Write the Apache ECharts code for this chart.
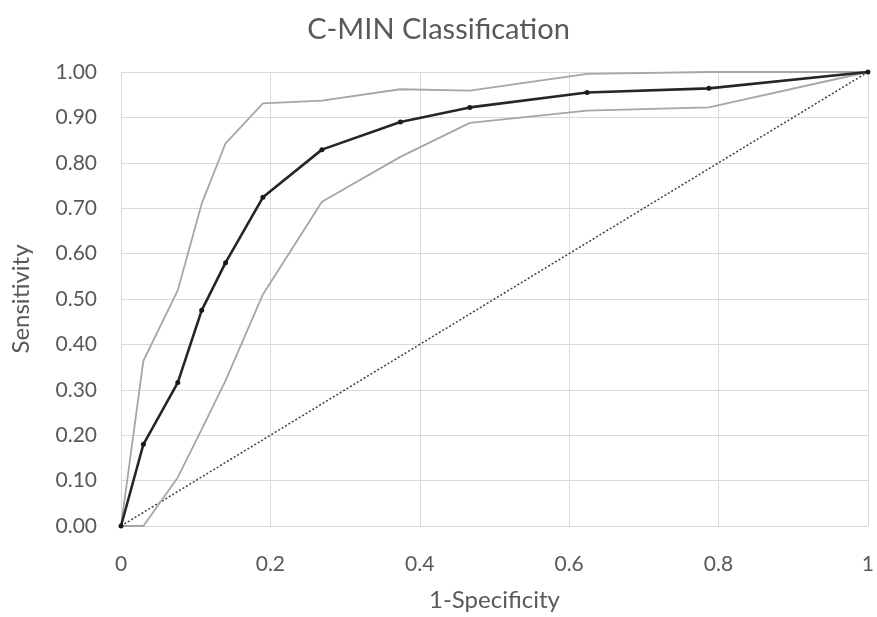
<!DOCTYPE html>
<html lang="en">

<head>
    <meta charset="UTF-8">
    <title>C-MIN Classification</title>
    <script src="https://cdn.jsdelivr.net/npm/echarts@6/dist/echarts.min.js"></script>
    <style>
        html, body { margin: 0; padding: 0; background: #fff; overflow: hidden; }
        #chart { width: 877px; height: 617px; }
    </style>
</head>

<body>
    <div id="chart"></div>
    <script>
        // 1-specificity (x) shared by all curves
        var fpr = [0, 0.030, 0.076, 0.108, 0.140, 0.190, 0.269, 0.374, 0.467, 0.624, 0.787, 1];
        // ROC curve
        var sens = [0, 0.180, 0.316, 0.475, 0.580, 0.724, 0.829, 0.890, 0.922, 0.955, 0.964, 1];
        // confidence band
        var upper = [0, 0.364, 0.519, 0.710, 0.843, 0.931, 0.937, 0.962, 0.959, 0.996, 1.000, 1];
        var lower = [0, 0.000, 0.107, 0.213, 0.320, 0.510, 0.714, 0.813, 0.888, 0.915, 0.922, 1];
        // chance line
        var chance = [[0, 0], [1, 1]];

        function pairs(xs, ys) {
            var out = [];
            for (var i = 0; i < xs.length; i++) out.push([xs[i], ys[i]]);
            return out;
        }

        var font = 'Lato';
        var chart = echarts.init(document.getElementById('chart'));
        var option = {
            animation: false,
            title: {
                text: 'C-MIN Classification',
                left: 'center',
                top: 10,
                textStyle: { fontFamily: font, fontSize: 29, fontWeight: 'normal', color: '#595959' }
            },
            grid: { left: 121, right: -6, top: 72, bottom: 78 },
            xAxis: {
                type: 'value',
                min: 0,
                max: 1,
                interval: 0.2,
                name: '1-Specificity',
                nameLocation: 'middle',
                nameGap: 62,
                nameTextStyle: { fontFamily: font, fontSize: 24, color: '#595959' },
                axisLine: { show: false },
                axisTick: { show: false },
                axisLabel: { fontFamily: font, fontSize: 21, color: '#595959', margin: 28 },
                splitLine: { lineStyle: { color: '#d9d9d9', width: 1 } }
            },
            yAxis: {
                type: 'value',
                min: 0,
                max: 1,
                interval: 0.1,
                name: 'Sensitivity',
                nameLocation: 'middle',
                nameGap: 88,
                nameTextStyle: { fontFamily: font, fontSize: 24, color: '#595959' },
                axisLine: { show: false },
                axisTick: { show: false },
                axisLabel: {
                    fontFamily: font, fontSize: 21, color: '#595959', margin: 24,
                    formatter: function (v) { return v.toFixed(2); }
                },
                splitLine: { lineStyle: { color: '#d9d9d9', width: 1 } }
            },
            series: [
                {
                    name: 'chance',
                    type: 'line',
                    data: chance,
                    showSymbol: false,
                    lineStyle: { color: '#404040', width: 1.5, type: [2, 2] }
                },
                {
                    name: 'upper',
                    type: 'line',
                    data: pairs(fpr, upper),
                    showSymbol: false,
                    lineStyle: { color: '#a6a6a6', width: 1.8 }
                },
                {
                    name: 'lower',
                    type: 'line',
                    data: pairs(fpr, lower),
                    showSymbol: false,
                    lineStyle: { color: '#a6a6a6', width: 1.8 }
                },
                {
                    name: 'ROC',
                    type: 'line',
                    data: pairs(fpr, sens),
                    symbol: 'circle',
                    symbolSize: 5,
                    itemStyle: { color: '#1a1a1a' },
                    lineStyle: { color: '#262626', width: 2.6 }
                }
            ]
        };
        chart.setOption(option);
    </script>
</body>

</html>
